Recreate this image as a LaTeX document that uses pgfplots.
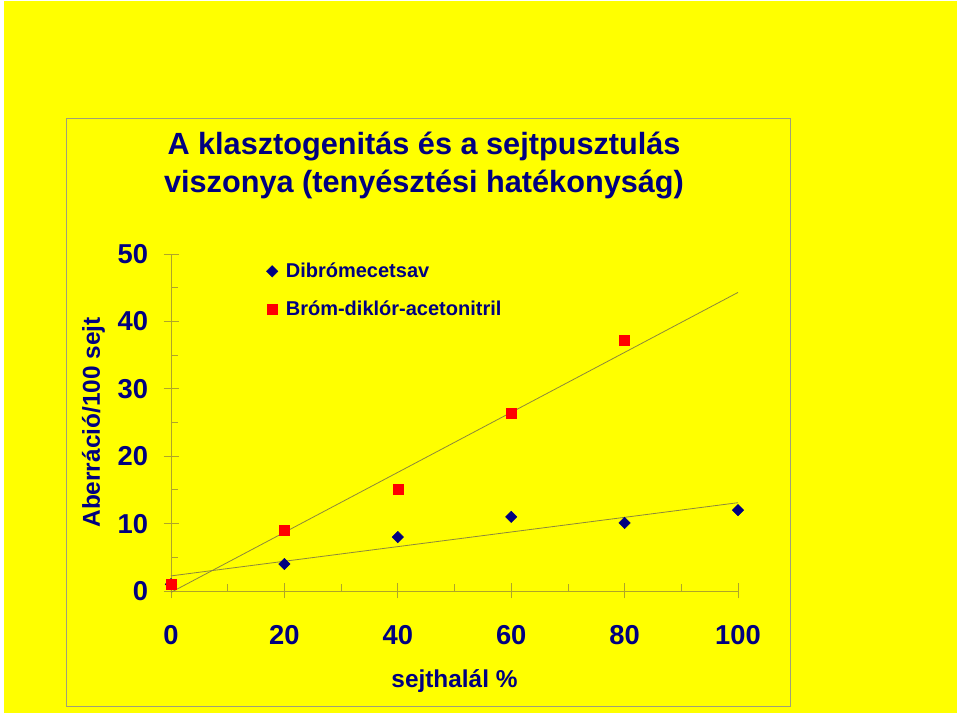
\documentclass[border=0pt]{standalone}
\usepackage{fontspec}
\setmainfont{Liberation Sans}
\usepackage{pgfplots}
\pgfplotsset{compat=1.18}
\definecolor{navy}{RGB}{0,0,128}
\definecolor{bgyellow}{RGB}{255,255,0}
\definecolor{axisol}{RGB}{175,165,40}
\definecolor{trend}{RGB}{140,135,60}
\definecolor{framegray}{RGB}{160,160,120}

\begin{document}
\begin{tikzpicture}
% page background and chart frame (1px = 0.75pt)
\fill[white] (0,0) rectangle (720pt,537pt);
\fill[bgyellow] (3pt,2.25pt) rectangle (717.75pt,536.25pt);
\draw[framegray, line width=0.7pt] (49.5pt,7pt) rectangle (593pt,448.5pt);
\node[navy, font=\bfseries\fontsize{23}{27}\selectfont, anchor=base] at (318pt,420.75pt) {A klasztogenitás és a sejtpusztulás};
\node[navy, font=\bfseries\fontsize{23}{27}\selectfont, anchor=base] at (318pt,392.5pt) {viszonya (tenyésztési hatékonyság)};

\begin{axis}[
  at={(128.25pt,93.75pt)}, anchor=south west,
  scale only axis, width=425.25pt, height=252.75pt,
  xmin=0, xmax=100, ymin=0, ymax=50,
  axis x line=bottom, axis y line=left,
  axis line style={axisol, line width=0.6pt, -},
  xtick={0,20,...,100}, ytick={0,10,...,50},
  minor x tick num=1, minor y tick num=1,
  tick align=center,
  major tick length=11.25pt, minor tick length=5.25pt,
  every tick/.style={axisol, line width=0.6pt},
  minor x tick style={yshift=2.625pt},
  minor y tick style={xshift=2.625pt},
  /pgf/number format/assume math mode=true,
  tick label style={navy, font=\bfseries\fontsize{20.5}{24}\selectfont},
  xticklabel style={yshift=-17pt},
  yticklabel style={xshift=-8pt},
  xlabel={sejthalál \%},
  ylabel={Aberráció/100 sejt},
  label style={navy, font=\bfseries\fontsize{18.3}{22}\selectfont},
  xlabel style={at={(axis description cs:0.5,-0.2849)}, anchor=base},
  ylabel style={at={(axis description cs:-0.1253,0.5)}, anchor=base, rotate=0},
  clip=false,
  legend style={at={(0.161,0.99)}, anchor=north west, draw=none, fill=none,
    font=\bfseries\fontsize{15}{18}\selectfont, text=navy, row sep=12pt,
    /tikz/every odd column/.append style={column sep=4pt}},
  legend cell align=left,
]
\addplot[trend, line width=0.6pt, forget plot] coordinates {(0,2.24) (100,13.1)};
\addplot[trend, line width=0.6pt, forget plot] coordinates {(0,-0.2) (100,44.3)};
\addplot[only marks, mark=square*, mark size=3pt, mark options={rotate=45, fill=navy, draw=navy}]
  coordinates {(0,1) (20,4) (40,8) (60,11) (80,10.1) (100,12)};
\addlegendentry{Dibrómecetsav}
\addplot[only marks, mark=square*, mark size=3.75pt, mark options={fill=red, draw=red}]
  coordinates {(0,1) (20,9) (40,15.1) (60,26.3) (80,37.2)};
\addlegendentry{Bróm-diklór-acetonitril}
\end{axis}
\end{tikzpicture}
\end{document}
